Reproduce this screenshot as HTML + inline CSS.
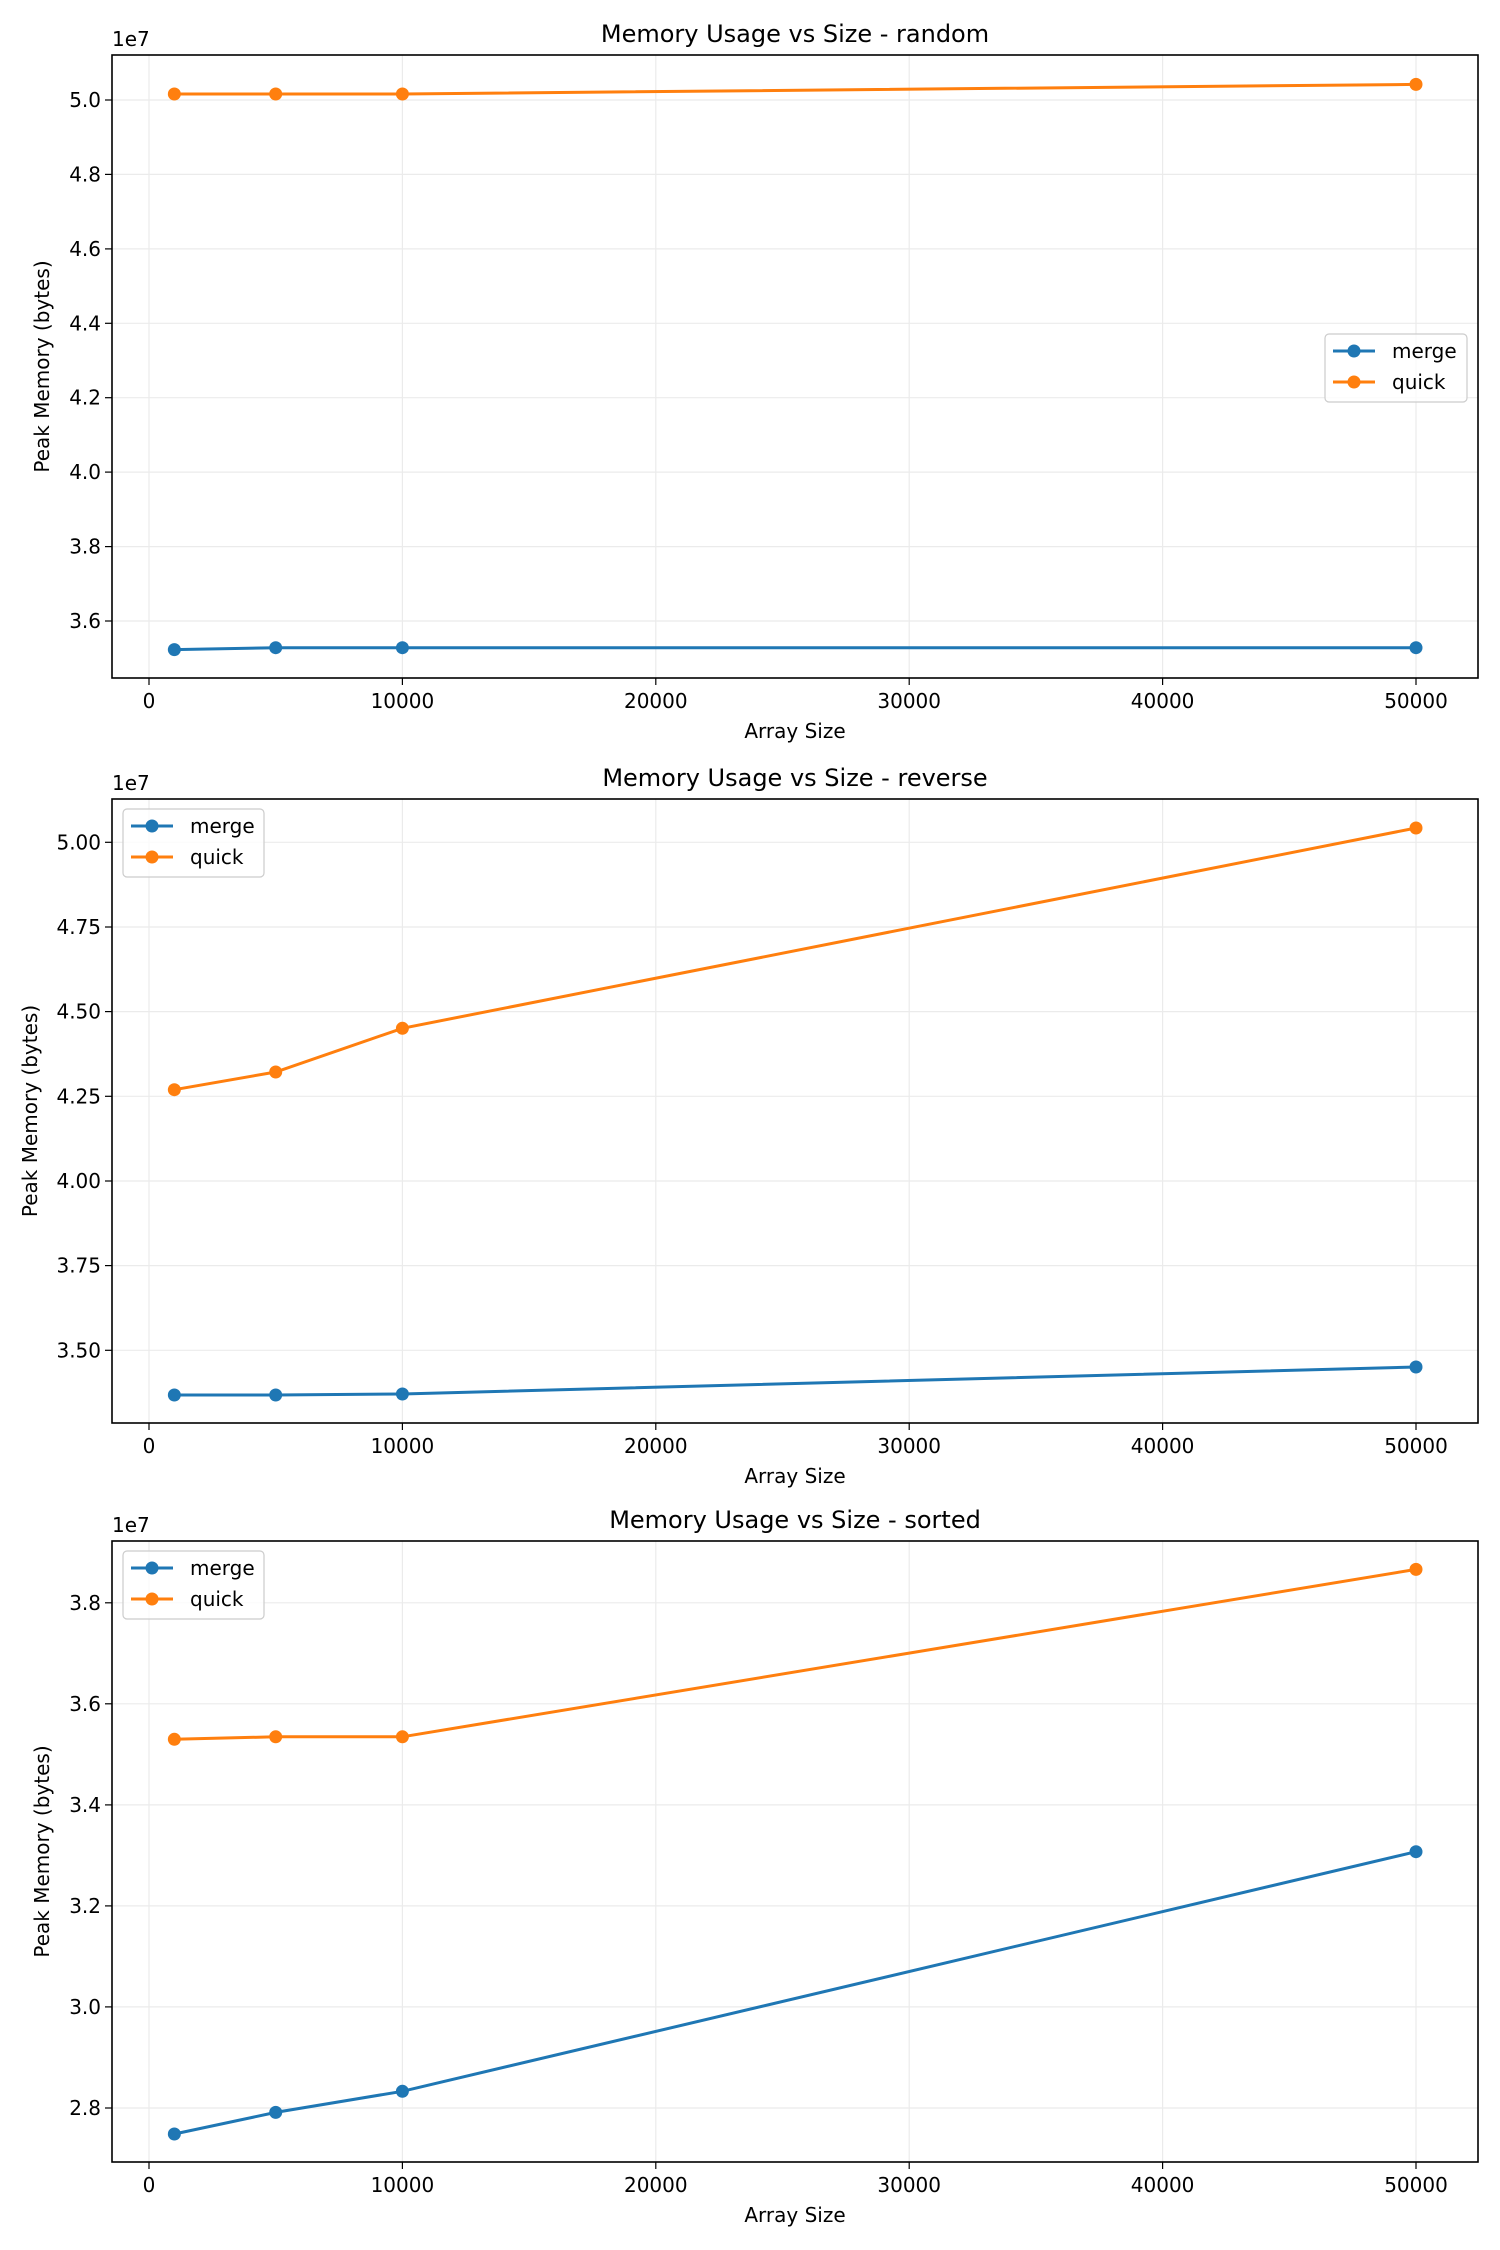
<!DOCTYPE html>
<html><head><meta charset="utf-8"><style>body{margin:0;background:#fff}svg{display:block}text{font-family:"DejaVu Sans","Liberation Sans",sans-serif;fill:#000}</style></head>
<body><svg id="s" width="1500" height="2250" xmlns="http://www.w3.org/2000/svg"></svg>
<script>
const L=112,R=1478,xs=v=>149+v*0.02534;
const P=[
 {t:"Memory Usage vs Size - random",top:55,bot:678,ticks:[[3.6,621],[3.8,546.6],[4.0,472.1],[4.2,397.7],[4.4,323.3],[4.6,248.9],[4.8,174.4],[5.0,100]],dec:1,
  q:[94,94,94,84.4],m:[649.6,647.7,647.7,647.7],leg:[1325,334,1467,402],ylx:42},
 {t:"Memory Usage vs Size - reverse",top:799,bot:1423,ticks:[[3.5,1350.3],[3.75,1265.6],[4.0,1181],[4.25,1096.3],[4.5,1011.6],[4.75,927],[5.0,842.3]],dec:2,
  q:[1089.7,1072,1028.3,828],m:[1395,1395,1394,1367],leg:[123,809,264,877],ylx:30},
 {t:"Memory Usage vs Size - sorted",top:1541,bot:2162,ticks:[[2.8,2108],[3.0,2006.9],[3.2,1905.9],[3.4,1804.9],[3.6,1703.8],[3.8,1602.8]],dec:1,
  q:[1739.3,1736.8,1736.8,1569.4],m:[2134,2112.4,2091.3,1851.7],leg:[123,1551,264,1619],ylx:42}
];
const X=[1000,5000,10000,50000].map(xs);
let h="";
for(const p of P){
  for(let v=0;v<=50000;v+=10000){const x=xs(v);h+=`<line x1="${x}" y1="${p.top}" x2="${x}" y2="${p.bot}" stroke="#ebebeb" stroke-width="1.2"/>`;
   h+=`<line x1="${x}" y1="${p.bot}" x2="${x}" y2="${p.bot+7}" stroke="#000" stroke-width="1.2"/><text x="${x}" y="${p.bot+30}" font-size="20" text-anchor="middle">${v}</text>`;}
  for(const [v,y] of p.ticks){h+=`<line x1="${L}" y1="${y}" x2="${R}" y2="${y}" stroke="#ebebeb" stroke-width="1.2"/><line x1="${L-7}" y1="${y}" x2="${L}" y2="${y}" stroke="#000" stroke-width="1.2"/><text x="${L-11}" y="${y+7}" font-size="20" text-anchor="end">${v.toFixed(p.dec)}</text>`;}
  for(const [ys,c] of [[p.m,"#1f77b4"],[p.q,"#ff7f0e"]]){
    h+=`<polyline points="${X.map((x,i)=>x+","+ys[i]).join(" ")}" fill="none" stroke="${c}" stroke-width="3"/>`;
    X.forEach((x,i)=>h+=`<circle cx="${x}" cy="${ys[i]}" r="6.5" fill="${c}"/>`);
  }
  h+=`<rect x="${L}" y="${p.top}" width="${R-L}" height="${p.bot-p.top}" fill="none" stroke="#000" stroke-width="1.6"/>`;
  h+=`<text x="795" y="${p.top-13}" font-size="24" text-anchor="middle">${p.t}</text>`;
  h+=`<text x="${L}" y="${p.top-9}" font-size="20">1e7</text>`;
  h+=`<text x="795" y="${p.bot+60}" font-size="20" text-anchor="middle">Array Size</text>`;
  const cy=(p.top+p.bot)/2;
  h+=`<text transform="translate(${p.ylx+7},${cy}) rotate(-90)" font-size="20" text-anchor="middle">Peak Memory (bytes)</text>`;
  const [a,b,c2,d]=p.leg;
  h+=`<rect x="${a}" y="${b}" width="${c2-a}" height="${d-b}" rx="4" fill="#fff" fill-opacity="0.8" stroke="#ccc" stroke-width="1.2"/>`;
  [["merge","#1f77b4",b+17],["quick","#ff7f0e",b+48]].forEach(([n,c,y])=>{
    h+=`<line x1="${a+8}" y1="${y}" x2="${a+50}" y2="${y}" stroke="${c}" stroke-width="3"/><circle cx="${a+29}" cy="${y}" r="6.5" fill="${c}"/><text x="${a+67}" y="${y+7}" font-size="20">${n}</text>`;
  });
}
document.getElementById("s").innerHTML=h;
</script></body></html>
